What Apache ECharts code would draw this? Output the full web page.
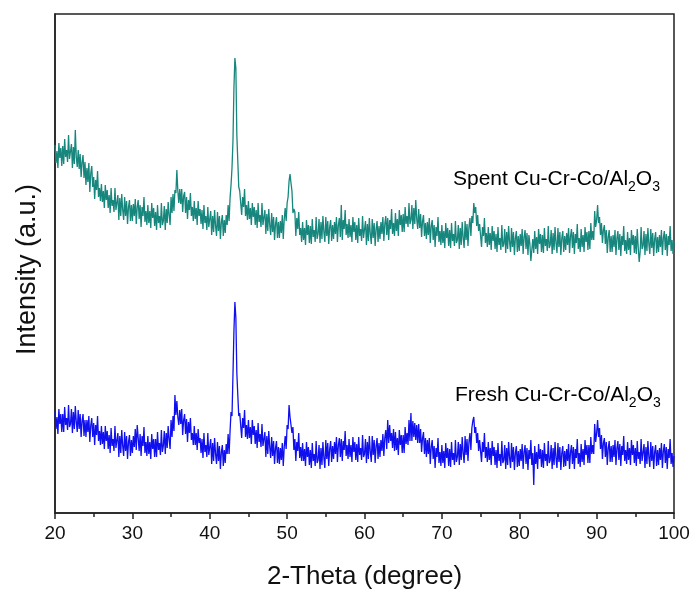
<!DOCTYPE html>
<html>
<head>
<meta charset="utf-8">
<script src="https://cdn.jsdelivr.net/npm/echarts@6/dist/echarts.min.js"></script>
<style>html,body{margin:0;padding:0;background:#fff}#c{width:696px;height:595px}</style>
</head>
<body>
<div id="c"></div>
<script>
// scan grid (2-Theta, degree)
const scanStart = 20;
const scanStep = 0.125;
const xTicks = [20, 30, 40, 50, 60, 70, 80, 90, 100];

// Spent Cu-Cr-Co/Al2O3 intensity (a.u., offset trace), 8 points per degree from 20 to 100
const spent = [
368,350,362,345,370,355,365,347, 367,349,374,356,363,351,378,354,
354,369,345,366,349,383,356,346, 363,344,359,336,351,358,335,351,
328,345,331,350,321,340,347,326, 336,314,333,323,342,316,325,312,
329,311,322,305,328,313,323,305, 318,300,325,307,313,301,325,303,
303,318,293,315,297,319,303,293, 316,297,312,289,306,313,292,308,
292,309,297,314,289,306,313,294, 308,286,306,297,316,291,302,288,
308,290,302,285,310,295,305,287, 301,283,308,290,297,285,310,288,
292,307,283,304,290,311,298,288, 316,300,319,302,323,320,343,322,
310,324,309,324,301,317,321,300, 316,294,313,303,320,297,306,292,
312,294,305,288,312,297,304,289, 303,284,308,290,297,283,306,286,
287,302,278,297,281,303,287,277, 301,282,297,274,291,298,277,293,
280,298,288,308,292,315,328,345, 372,425,455,445,378,352,326,322,
320,298,316,306,324,297,308,293, 312,294,305,288,310,296,306,288,
303,285,310,291,298,286,310,288, 288,303,279,299,282,304,288,278,
300,281,296,273,289,296,275,291, 275,292,280,298,274,294,305,292,
310,316,332,339,330,322,300,304, 301,277,295,284,301,278,285,271,
291,273,285,268,293,278,288,270, 287,269,294,276,283,271,296,274,
279,294,270,291,274,297,281,271, 296,277,292,269,286,293,272,288,
274,291,279,296,271,288,295,276, 308,273,293,284,303,278,289,275,
294,276,288,271,296,281,291,273, 288,270,295,277,284,272,297,275,
277,292,268,289,272,295,279,269, 294,275,290,267,284,292,271,287,
274,291,279,296,272,289,297,278, 295,273,293,284,304,279,290,277,
300,282,294,277,303,288,298,281, 299,281,306,289,297,286,310,289,
293,308,284,305,289,313,294,284, 304,285,299,276,292,298,277,290,
274,291,278,295,270,287,293,273, 288,266,286,277,296,271,282,268,
288,270,282,265,290,275,285,267, 283,265,290,272,279,267,292,270,
273,288,264,285,268,291,275,265, 292,273,289,267,286,295,277,297,
290,310,300,306,287,298,282,289, 288,266,286,277,295,270,280,266,
286,268,280,263,287,272,282,264, 279,261,286,268,275,263,288,266,
269,284,260,281,264,287,271,261, 285,266,281,258,275,282,261,277,
262,279,267,284,259,276,283,264, 280,258,278,269,252,263,274,260,
282,264,276,259,284,269,279,261, 278,260,285,267,274,262,287,265,
268,283,259,280,263,286,270,260, 285,266,281,258,275,282,261,277,
263,280,268,285,260,277,284,265, 281,259,279,270,289,264,275,261,
284,266,278,261,286,271,281,263, 282,264,290,273,282,273,302,286,
293,308,290,296,278,290,270,283, 288,269,283,260,276,283,261,277,
261,278,266,283,258,275,282,263, 279,257,277,268,287,262,273,259,
281,263,275,258,283,268,278,260, 277,259,284,266,251,261,286,264,
267,282,258,279,262,285,269,259, 284,265,280,257,274,281,260,276,
261,278,266,283,258,275,282,263, 279,257,277,268,287,262,273,259,
272
];

// Fresh Cu-Cr-Co/Al2O3 intensity (a.u.), 8 points per degree from 20 to 100
const fresh = [
102,84,96,79,104,89,99,81, 99,81,106,88,95,83,108,86,
89,104,80,101,84,107,91,81, 103,84,99,76,92,99,77,93,
76,93,81,97,71,88,95,76, 90,68,88,78,97,72,82,68,
87,69,81,64,87,72,82,64, 78,60,85,67,74,62,87,65,
65,80,56,77,60,83,67,57, 81,62,77,54,71,78,57,73,
60,77,66,84,63,88,75,62, 79,57,77,67,86,60,71,57,
77,59,71,54,79,64,74,56, 74,56,81,63,70,58,83,61,
67,82,59,80,65,87,74,64, 93,76,97,82,118,98,112,96,
88,103,89,104,78,93,99,79, 94,71,91,80,95,73,80,68,
87,68,80,63,84,70,75,60, 74,55,80,61,68,56,80,58,
59,74,49,70,52,75,59,49, 71,52,67,44,61,68,47,63,
50,69,59,79,59,82,101,97, 138,182,211,195,140,118,97,100,
98,75,95,85,103,76,88,74, 93,75,86,69,93,78,87,69,
83,65,90,71,79,66,89,67, 66,81,56,77,59,82,66,55,
76,57,72,49,65,72,50,66, 49,65,53,70,47,66,77,64,
88,84,108,96,98,80,86,63, 74,52,71,62,80,55,66,52,
70,52,64,47,71,56,66,48, 63,45,70,52,59,47,72,50,
53,68,44,65,48,71,55,45, 73,54,70,47,64,72,51,67,
54,71,59,76,51,68,75,56, 74,52,72,63,82,57,68,54,
74,56,68,51,76,61,71,53, 69,51,76,58,65,53,78,56,
59,74,50,71,54,77,61,51, 77,58,73,50,67,75,54,70,
56,73,62,79,57,75,83,64, 93,70,88,72,80,65,84,62,
81,63,75,58,83,68,78,60, 78,60,86,69,80,68,93,72,
100,72,92,76,90,73,88,70, 89,70,84,61,75,81,59,75,
56,73,59,75,49,66,73,54, 67,45,65,56,75,50,61,47,
68,50,62,45,70,55,65,47, 64,46,71,53,60,48,73,51,
56,71,48,69,53,76,60,50, 77,58,74,52,71,80,63,85,
92,96,80,86,70,80,62,73, 73,51,71,61,80,55,66,51,
71,53,65,48,72,57,66,48, 63,45,70,52,59,47,72,50,
53,68,44,65,48,71,55,45, 70,51,66,43,60,67,46,62,
47,64,52,69,44,61,68,49, 65,43,63,54,73,48,60,28,
67,49,61,44,69,54,64,46, 63,45,70,52,59,47,72,50,
53,68,44,65,48,71,55,45, 70,51,66,43,60,67,46,62,
47,64,52,69,44,61,68,49, 66,44,64,55,74,49,60,46,
69,51,64,48,73,58,68,50, 68,50,76,59,68,59,89,71,
80,93,76,85,64,78,54,70, 75,56,71,48,65,72,51,67,
51,68,56,73,48,65,72,53, 69,47,67,58,77,52,63,49,
71,53,65,48,73,58,68,50, 65,47,72,54,61,49,74,52,
54,69,45,66,49,72,56,46, 71,52,67,44,61,68,47,63,
48,65,53,70,45,62,69,50, 66,44,64,55,74,49,60,46,
57
];

const labelSpent = ['Spent Cu-Cr-Co/Al', '2', 'O', '3'];
const labelFresh = ['Fresh Cu-Cr-Co/Al', '2', 'O', '3'];

function pairs(arr) {
  return arr.map((v, i) => [scanStart + i * scanStep, v]);
}
function richLabel(parts) {
  return '{a|' + parts[0] + '}{s|' + parts[1] + '}{a|' + parts[2] + '}{s|' + parts[3] + '}';
}
const font = 'Liberation Sans, Arial, sans-serif';
const richStyle = {
  a: { fontSize: 21, fontFamily: font, color: '#111', lineHeight: 29, verticalAlign: 'middle' },
  s: { fontSize: 14, fontFamily: font, color: '#111', lineHeight: 14, verticalAlign: 'bottom' }
};

const chart = echarts.init(document.getElementById('c'), null, { renderer: 'canvas' });
chart.setOption({
  animation: false,
  backgroundColor: '#fff',
  grid: { left: 55, right: 22, top: 14, bottom: 82, show: true, borderColor: '#222', borderWidth: 1.5, backgroundColor: 'transparent' },
  xAxis: {
    type: 'value', min: 20, max: 100, interval: 10,
    name: '2-Theta (degree)', nameLocation: 'middle', nameGap: 51,
    nameTextStyle: { fontSize: 26, fontFamily: font, color: '#111' },
    axisLine: { lineStyle: { color: '#222', width: 1.5 } },
    axisTick: { inside: false, length: 6, lineStyle: { color: '#222', width: 1.5 } },
    minorTick: { show: true, splitNumber: 2, length: 4, lineStyle: { color: '#222', width: 1.5 } },
    axisLabel: { fontSize: 19, fontFamily: font, color: '#111', margin: 11,
      formatter: v => xTicks.includes(v) ? String(v) : '' },
    splitLine: { show: false }
  },
  yAxis: {
    type: 'value', min: 0, max: 499,
    name: 'Intensity (a.u.)', nameLocation: 'middle', nameGap: 14,
    nameTextStyle: { fontSize: 27, fontFamily: font, color: '#111', padding: [0, 12, 0, 0] },
    axisLine: { show: true, lineStyle: { color: '#222', width: 1.5 } },
    axisTick: { show: false },
    axisLabel: { show: false },
    splitLine: { show: false }
  },
  graphic: [
    { type: 'text', left: 453, top: 169, style: { text: richLabel(labelSpent), rich: richStyle } },
    { type: 'text', left: 455, top: 385, style: { text: richLabel(labelFresh), rich: richStyle } }
  ],
  series: [
    { type: 'line', name: 'Spent', data: pairs(spent), showSymbol: false, symbol: 'none',
      lineStyle: { color: '#17877d', width: 1.3 }, z: 2 },
    { type: 'line', name: 'Fresh', data: pairs(fresh), showSymbol: false, symbol: 'none',
      lineStyle: { color: '#1010ee', width: 1.3 }, z: 3 }
  ]
});
</script>
</body>
</html>
